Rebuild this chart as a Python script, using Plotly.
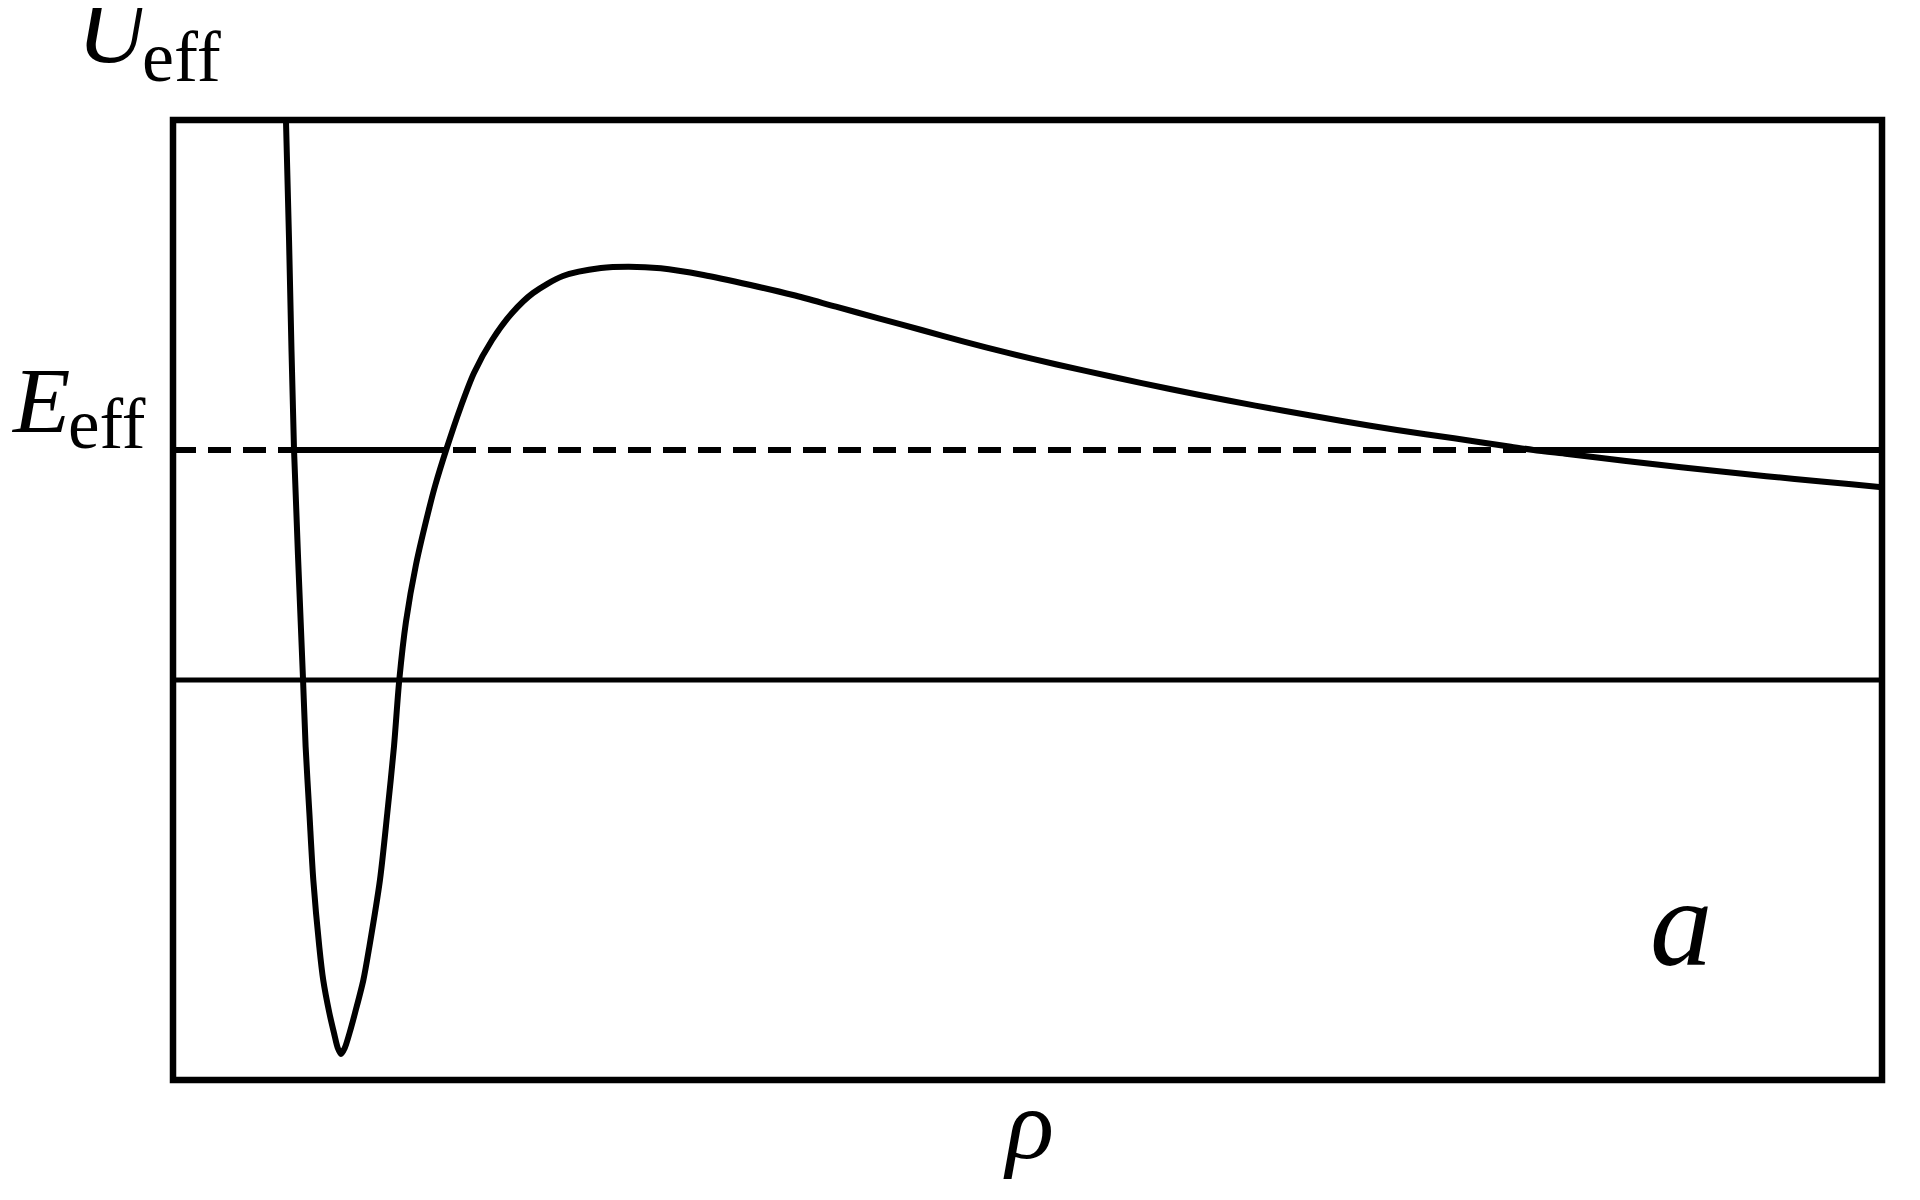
import plotly.graph_objects as go

# Effective potential U_eff(rho) (arbitrary units)
rho = [0.661, 0.679, 0.708, 0.761, 0.776, 0.798, 0.821, 0.856, 0.879, 0.915, 0.942,
       0.964, 0.983, 1.005, 1.033, 1.065, 1.114, 1.149, 1.211, 1.254,
       1.293, 1.324, 1.363, 1.422, 1.501, 1.535, 1.600, 1.684, 1.761, 1.867, 1.984,
       2.107, 2.282, 2.504, 2.667, 2.854, 3.104, 3.379, 3.628, 3.879, 4.129, 4.380,
       4.628, 4.880, 5.171, 5.503, 5.834, 6.167, 6.500, 6.832, 7.162, 7.496, 7.828,
       7.961, 8.160, 8.490, 8.824, 9.157, 9.489, 9.821, 10.0]
U_eff = [5.60, 4.40, 2.31, 0.00, -0.667, -1.33, -2.00, -2.667, -3.00, -3.33, -3.53,
         -3.68, -3.74, -3.68, -3.53, -3.33, -3.00, -2.667, -2.00, -1.33,
         -0.667, 0.00, 0.58, 1.155, 1.73, 1.95, 2.31, 2.733, 3.07, 3.40, 3.67,
         3.87, 4.04, 4.12, 4.133, 4.117, 4.05, 3.95, 3.85, 3.733, 3.617, 3.50,
         3.383, 3.273, 3.155, 3.03, 2.91, 2.797, 2.692, 2.593, 2.50, 2.417, 2.333,
         2.30, 2.26, 2.193, 2.127, 2.067, 2.01, 1.957, 1.927]

E_eff = 2.3
rho_turn = [0.708, 1.600, 7.961]   # turning points where U_eff = E_eff
rho_range = [0.0, 10.0]
U_range = [-4.0, 5.6]

BLACK = "#000000"
fig = go.Figure()

# zero level
fig.add_trace(go.Scatter(x=rho_range, y=[0, 0], mode="lines",
                         line=dict(color=BLACK, width=5), hoverinfo="skip"))
# energy level: dashed in forbidden regions, solid in allowed regions
fig.add_trace(go.Scatter(x=rho_range, y=[E_eff, E_eff], mode="lines",
                         line=dict(color=BLACK, width=6, dash="23px,12px"),
                         hoverinfo="skip"))
fig.add_trace(go.Scatter(x=[rho_turn[0], rho_turn[1]], y=[E_eff, E_eff], mode="lines",
                         line=dict(color=BLACK, width=6), hoverinfo="skip"))
fig.add_trace(go.Scatter(x=[rho_turn[2], rho_range[1]], y=[E_eff, E_eff], mode="lines",
                         line=dict(color=BLACK, width=6), hoverinfo="skip"))
# potential curve
fig.add_trace(go.Scatter(x=rho, y=U_eff, mode="lines",
                         line=dict(color=BLACK, width=6, shape="spline", smoothing=0.8),
                         hoverinfo="skip"))

# page geometry (body has an 8px margin)
OFF = 8
W, H = 1904, 1184
PL, PR, PT, PB = 173, 1882, 120, 1080   # plot frame in page pixels
L, R, T, B = PL - OFF, W - (PR - OFF), PT - OFF, H - (PB - OFF)
pw, ph = PR - PL, PB - PT

def px(x):
    return (x - PL) / pw

def py(y):
    return (PB - y) / ph

serif = "Liberation Serif, Times New Roman, serif"
ann = []
def text(t, x, y, size, xa="left", ya="bottom"):
    ann.append(dict(text=t, x=px(x), y=py(y), xref="paper", yref="paper",
                    xanchor=xa, yanchor=ya, showarrow=False,
                    font=dict(family=serif, size=size, color=BLACK)))

text("<i>U</i>", 75, 85, 97)
text("eff", 140, 99, 72)
text("<i>E</i>", 9, 454, 94)
text("eff", 66, 465, 71)
text("<i>ρ</i>", 1028, 1124, 100, xa="center", ya="middle")
text("<i>a</i>", 1681, 923, 125, xa="center", ya="middle")

fig.update_layout(
    width=W, height=H,
    margin=dict(l=L, r=R, t=T, b=B, pad=0),
    paper_bgcolor="white", plot_bgcolor="white",
    showlegend=False,
    xaxis=dict(range=rho_range, showgrid=False, zeroline=False, showticklabels=False,
               ticks="", showline=False),
    yaxis=dict(range=U_range, showgrid=False, zeroline=False, showticklabels=False,
               ticks="", showline=False),
    annotations=ann,
    shapes=[dict(type="rect", xref="paper", yref="paper", x0=0, x1=1, y0=0, y1=1,
                 line=dict(color=BLACK, width=6.5), layer="above")],
)

fig.write_html("out.html")
